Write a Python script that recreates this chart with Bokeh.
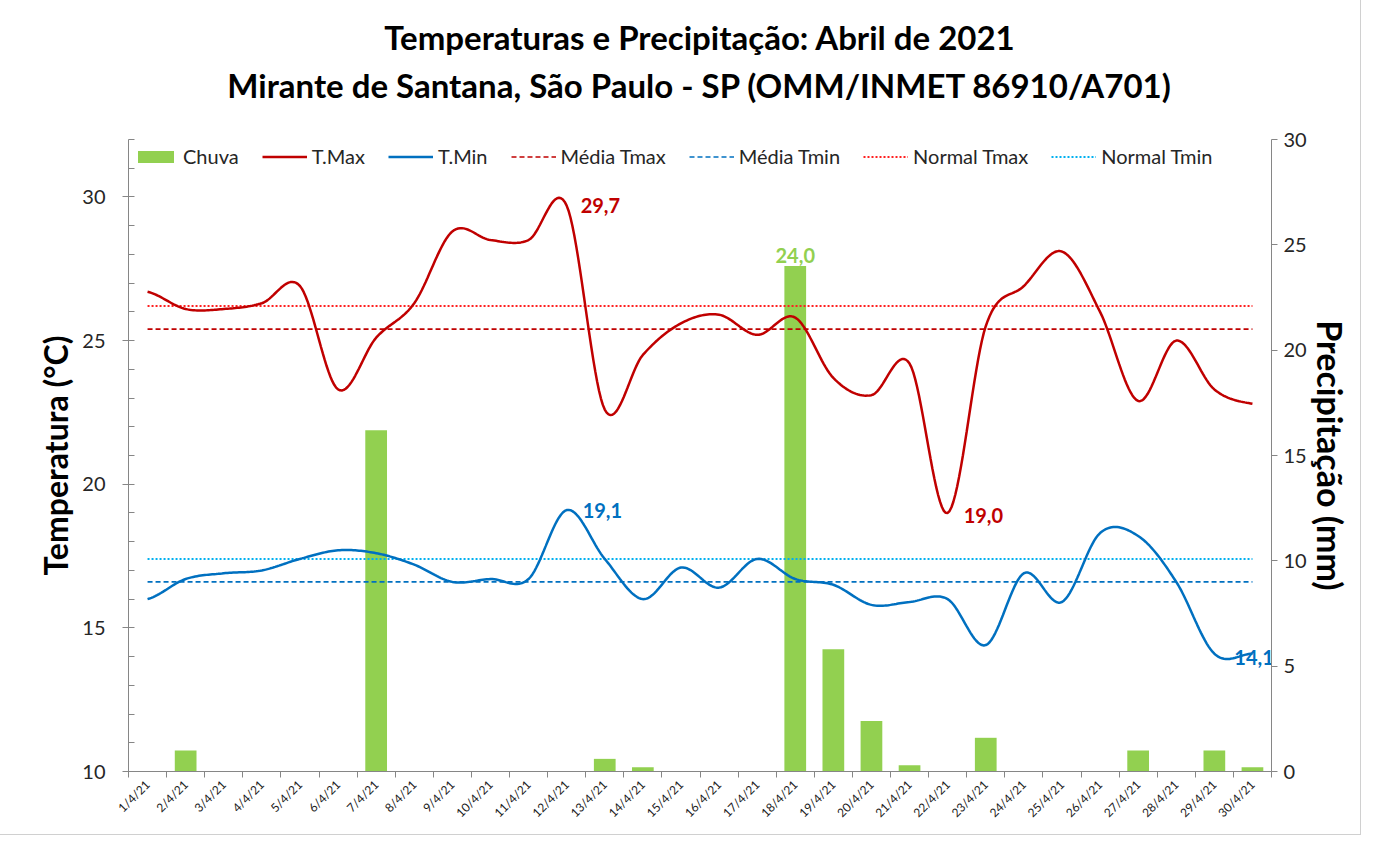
import numpy as np
from bokeh.plotting import figure
from bokeh.models import Range1d, LinearAxis, FixedTicker, Title, Legend, LegendItem, ColumnDataSource
from bokeh.core.properties import value
from bokeh.embed import file_html
from bokeh.resources import INLINE

# ---------------- data ----------------
days = list(range(1, 31))
day_labels = [f"{d}/4/21" for d in days]
tmax = [26.7, 26.1, 26.1, 26.3, 26.9, 23.3, 25.1, 26.3, 28.8, 28.5,
        28.5, 29.7, 22.6, 24.5, 25.6, 25.9, 25.2, 25.8, 23.7, 23.1,
        24.2, 19.0, 25.5, 26.9, 28.1, 26.0, 22.9, 25.0, 23.3, 22.8]
tmin = [16.0, 16.7, 16.9, 17.0, 17.4, 17.7, 17.6, 17.2, 16.6, 16.7,
        16.7, 19.1, 17.4, 16.0, 17.1, 16.4, 17.4, 16.7, 16.5, 15.8,
        15.9, 16.0, 14.4, 16.9, 15.9, 18.3, 18.2, 16.6, 14.1, 14.1]
rain = [0.0, 1.0, 0.0, 0.0, 0.0, 0.0, 16.2, 0.0, 0.0, 0.0,
        0.0, 0.0, 0.6, 0.2, 0.0, 0.0, 0.0, 24.0, 5.8, 2.4,
        0.3, 0.0, 1.6, 0.0, 0.0, 0.0, 1.0, 0.0, 1.0, 0.2]
media_tmax = 25.4
media_tmin = 16.6
normal_tmax = 26.2
normal_tmin = 17.4

temp_ticks = [10, 15, 20, 25, 30]
rain_ticks = [0, 5, 10, 15, 20, 25, 30]

title1 = "Temperaturas e Precipitação: Abril de 2021"
title2 = "Mirante de Santana, São Paulo - SP (OMM/INMET 86910/A701)"

C_TMAX = "#C00000"
C_TMIN = "#0070C0"
C_RAIN = "#92D050"
C_NTMAX = "#FF2020"
C_NTMIN = "#00B0F0"
FONT = "Lato"


def smooth(vals, n=20):
    """Excel-like smoothed line (Catmull-Rom bezier) through the data points."""
    y = np.asarray(vals, float)
    x = np.asarray(days, float)
    P = np.concatenate([[y[0]], y, [y[-1]]])
    xs, ys = [], []
    t = np.linspace(0, 1, n, endpoint=False)
    for i in range(len(y) - 1):
        p0, p1, p2, p3 = P[i], P[i + 1], P[i + 2], P[i + 3]
        c1 = p1 + (p2 - p0) / 6.0
        c2 = p2 - (p3 - p1) / 6.0
        b = ((1 - t) ** 3) * p1 + 3 * ((1 - t) ** 2) * t * c1 + 3 * (1 - t) * t ** 2 * c2 + t ** 3 * p2
        xs.extend(x[i] + t * (x[i + 1] - x[i]))
        ys.extend(b)
    xs.append(x[-1])
    ys.append(y[-1])
    return xs, ys


p = figure(width=1360, height=834, x_range=Range1d(0.5, 30.5), y_range=Range1d(10, 32),
           output_backend="svg", toolbar_location=None,
           min_border_left=128, min_border_right=89, min_border_top=139, min_border_bottom=63)
p.outline_line_color = None
p.xgrid.visible = False
p.ygrid.visible = False
p.background_fill_color = "white"
p.border_fill_color = "white"
p.styles = {"outline": "1px solid #d0d0d0"}

p.extra_y_ranges = {"rain": Range1d(0, 30)}

AX = "#868686"
LBL = "#262626"

# x axis
xa = p.xaxis[0]
xa.ticker = FixedTicker(ticks=days, minor_ticks=[d - 0.5 for d in days] + [30.5])
xa.major_label_overrides = {d: lab for d, lab in zip(days, day_labels)}
xa.major_label_orientation = np.pi / 4
xa.major_tick_line_color = None
xa.minor_tick_out = 6
xa.minor_tick_in = 0
xa.minor_tick_line_color = AX
xa.axis_line_color = AX
xa.major_label_text_font = FONT
xa.major_label_text_font_size = "12px"
xa.major_label_text_color = "#1a1a1a"
xa.major_label_standoff = 5

# left axis
ya = p.yaxis[0]
ya.ticker = FixedTicker(ticks=temp_ticks, minor_ticks=list(range(10, 33)))
ya.axis_label = "Temperatura (°C)"
ya.axis_label_text_font = FONT
ya.axis_label_text_font_style = "bold"
ya.axis_label_text_font_size = "32px"
ya.axis_label_text_color = "black"
ya.axis_label_standoff = 4
ya.major_label_text_font = FONT
ya.major_label_text_font_size = "20px"
ya.major_label_text_color = LBL
ya.major_label_standoff = 17
ya.axis_line_color = AX
ya.major_tick_line_color = AX
ya.minor_tick_line_color = AX
ya.major_tick_in = 5
ya.major_tick_out = 6
ya.minor_tick_in = 6
ya.minor_tick_out = 0

# right axis
ra = LinearAxis(y_range_name="rain", ticker=FixedTicker(ticks=rain_ticks, minor_ticks=[]),
                axis_label="Precipitação (mm)")
ra.axis_label_text_font = FONT
ra.axis_label_text_font_style = "bold"
ra.axis_label_text_font_size = "34px"
ra.axis_label_text_color = "black"
ra.axis_label_standoff = 0
ra.major_label_text_font = FONT
ra.major_label_text_font_size = "20px"
ra.major_label_text_color = LBL
ra.major_label_standoff = 6
ra.axis_line_color = AX
ra.major_tick_line_color = AX
ra.major_tick_in = 0
ra.major_tick_out = 6
p.add_layout(ra, "right")

# blank spacer between the plot area and the title lines
spacer = Title(text=" ", text_font_size="1px", standoff=32)
p.add_layout(spacer, "above")

# titles (two centred lines)
t2 = Title(text=title2, align="center", text_font=FONT, text_font_style="bold",
           text_font_size="33px", text_color="black", standoff=0)
t1 = Title(text=title1, align="center", text_font=FONT, text_font_style="bold",
           text_font_size="33px", text_color="black", standoff=11)
p.add_layout(t2, "above")
p.add_layout(t1, "above")

# bars
src = ColumnDataSource(dict(x=days, rain=rain))
r_rain = p.vbar(x="x", top="rain", width=0.57, bottom=0, source=src, y_range_name="rain",
                fill_color=C_RAIN, line_color=None)

# reference lines
x_ends = [days[0], days[-1]]
r_mtx = p.line(x_ends, [media_tmax] * 2, line_color=C_TMAX, line_width=1.6, line_dash="5 3")
r_mtn = p.line(x_ends, [media_tmin] * 2, line_color=C_TMIN, line_width=1.6, line_dash="5 3")
r_ntx = p.line(x_ends, [normal_tmax] * 2, line_color=C_NTMAX, line_width=2, line_dash="2 2")
r_ntn = p.line(x_ends, [normal_tmin] * 2, line_color=C_NTMIN, line_width=2, line_dash="2 2")

# smoothed temperature lines
sx, sy = smooth(tmax)
r_tmax = p.line(sx, sy, line_color=C_TMAX, line_width=2.5)
sx2, sy2 = smooth(tmin)
r_tmin = p.line(sx2, sy2, line_color=C_TMIN, line_width=2.5)


def fmt(v):
    return f"{v:.1f}".replace(".", ",")


imx = int(np.argmax(tmax)); imn = int(np.argmin(tmax))
jmx = int(np.argmax(tmin)); jmn = int(np.argmin(tmin))
kmx = int(np.argmax(rain))

lab_font = dict(text_font=value(FONT), text_font_style="bold", text_font_size="20px")
p.text([days[imx]], [tmax[imx]], text=[fmt(tmax[imx])], x_offset=14, text_baseline="middle",
       text_color=C_TMAX, **lab_font)
p.text([days[imn]], [tmax[imn]], text=[fmt(tmax[imn])], x_offset=16, y_offset=3, text_baseline="middle",
       text_color=C_TMAX, **lab_font)
p.text([days[jmx]], [tmin[jmx]], text=[fmt(tmin[jmx])], x_offset=16, text_baseline="middle",
       text_color=C_TMIN, **lab_font)
p.text([days[jmn]], [tmin[jmn]], text=[fmt(tmin[jmn])], x_offset=20, y_offset=4, text_baseline="middle",
       text_color=C_TMIN, **lab_font)
p.text([days[kmx]], [rain[kmx]], text=[fmt(rain[kmx])], y_range_name="rain", y_offset=-3,
       text_align="center", text_baseline="bottom", text_color=C_RAIN, **lab_font)

legend = Legend(items=[
    LegendItem(label="Chuva", renderers=[r_rain]),
    LegendItem(label="T.Max", renderers=[r_tmax]),
    LegendItem(label="T.Min", renderers=[r_tmin]),
    LegendItem(label="Média Tmax", renderers=[r_mtx]),
    LegendItem(label="Média Tmin", renderers=[r_mtn]),
    LegendItem(label="Normal Tmax", renderers=[r_ntx]),
    LegendItem(label="Normal Tmin", renderers=[r_ntn]),
], location="top_left", orientation="horizontal", background_fill_alpha=0,
    border_line_color=None, label_text_font=FONT, label_text_font_size="20px",
    label_text_color=LBL, glyph_width=45, glyph_height=15, spacing=23, padding=0,
    margin=5, label_standoff=5)
p.add_layout(legend)

open("out.html", "w").write(file_html(p, INLINE))
